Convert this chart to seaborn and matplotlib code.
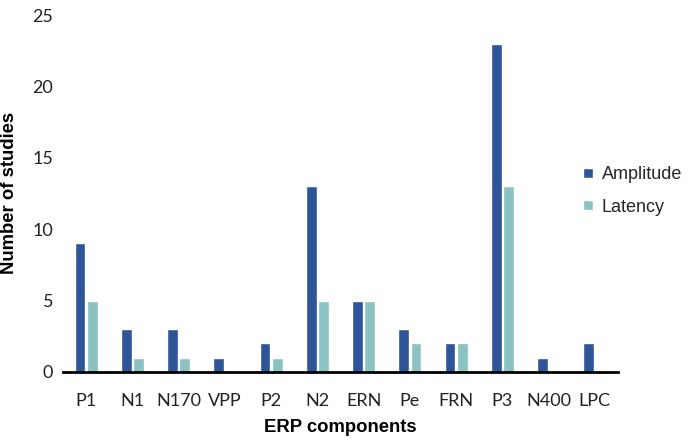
import matplotlib
matplotlib.use("Agg")
import matplotlib.pyplot as plt
import seaborn as sns
import pandas as pd

components = ["P1", "N1", "N170", "VPP", "P2", "N2", "ERN", "Pe", "FRN", "P3", "N400", "LPC"]
amplitude = [9, 3, 3, 1, 2, 13, 5, 3, 2, 23, 1, 2]
latency = [5, 1, 1, 0, 1, 5, 5, 2, 2, 13, 0, 0]
series = ["Amplitude", "Latency"]
colors = ["#2E5597", "#8BC3C2"]
yticks = [0, 5, 10, 15, 20, 25]

df = pd.DataFrame({
    "component": components * 2,
    "value": amplitude + latency,
    "measure": [series[0]] * len(components) + [series[1]] * len(components),
})

sns.set_theme(style="white")
W, H = 689, 442
fig = plt.figure(figsize=(W / 100, H / 100), dpi=100)
ax = fig.add_axes([63 / W, 1 - 372 / H, (618 - 63) / W, (372 - 15) / H])

sns.barplot(data=df, x="component", y="value", hue="measure", order=components,
            hue_order=series, palette=colors, width=0.54, gap=0.14, ax=ax,
            saturation=1, legend=True)

ax.set_xlim(-0.5, len(components) - 0.5)
ax.set_ylim(0, 25)
ax.set_yticks(yticks)
ax.set_yticklabels([str(t) for t in yticks])
for s in ["top", "right", "left"]:
    ax.spines[s].set_visible(False)
ax.spines["bottom"].set_color("black")
ax.spines["bottom"].set_linewidth(2)
ax.tick_params(axis="y", length=0, labelsize=13, labelcolor="#222222", pad=7)
ax.tick_params(axis="x", length=0, labelsize=13, labelcolor="#222222", pad=15)
for lab in ax.get_xticklabels() + ax.get_yticklabels():
    lab.set_family(["Lato", "DejaVu Sans"])
ax.set_xlabel("")
ax.set_ylabel("")

fig.text(340.5 / W, 1 - 427 / H, "ERP components", ha="center", va="center",
         fontsize=13.3, fontweight="bold", family="Liberation Sans", color="black")
fig.text(10 / W, 1 - 193 / H, "Number of studies", ha="center", va="center", rotation=90,
         fontsize=13.3, fontweight="bold", family="Liberation Sans", color="black")

handles, labels = ax.get_legend_handles_labels()
ax.legend(handles, labels, loc="center left", bbox_to_anchor=(570 / W, 1 - 191 / H),
          bbox_transform=fig.transFigure, frameon=False, borderpad=0.2,
          prop={"family": "Liberation Sans", "size": 13},
          handlelength=0.55, handleheight=0.5, handletextpad=0.5, labelspacing=0.85)

fig.savefig("out.png", dpi=100)
